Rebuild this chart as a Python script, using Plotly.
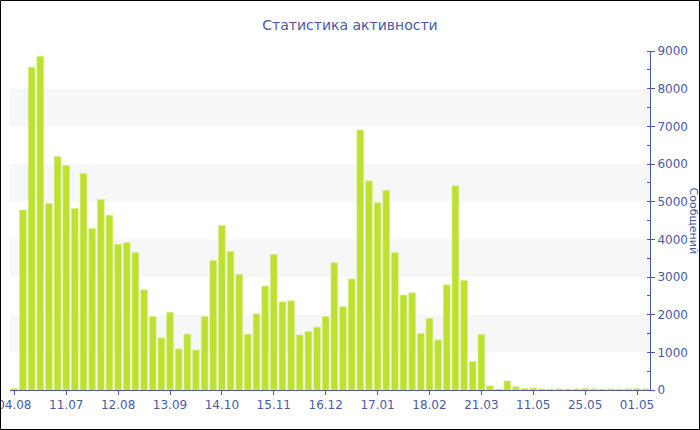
import plotly.graph_objects as go

title_text = "Статистика активности"
y_title = "Сообщений"

# weekly message counts (one bar per period)
values = [
    40, 4780, 8570, 8860, 4950, 6200, 5960, 4820, 5750, 4290,
    5060, 4640, 3870, 3910, 3650, 2660, 1950, 1380, 2060, 1090,
    1480, 1060, 1950, 3440, 4370, 3680, 3070, 1480, 2020, 2760,
    3600, 2340, 2370, 1460, 1550, 1670, 1950, 3380, 2210, 2950,
    6900, 5550, 4970, 5300, 3650, 2520, 2580, 1500, 1900, 1330,
    2790, 5420, 2910, 760, 1475, 110, 25, 240, 85, 40,
    55, 30, 25, 30, 25, 30, 45, 30, 25, 30,
    25, 30, 40, 30,
]
tick_labels = ["04.08", "11.07", "12.08", "13.09", "14.10", "15.11", "16.12",
               "17.01", "18.02", "21.03", "11.05", "25.05", "01.05"]
tick_step = 6
band_edges = [1000, 3000, 5000, 7000]  # gray bands start, each 1000 high

x = list(range(len(values)))
tick_vals = [i * tick_step for i in range(len(tick_labels))]

BLUE = "#4a5b9f"
FONT = "DejaVu Sans, Verdana, sans-serif"

W, H = 700, 430
ml, mr, mt, mb = 10, 50, 51, 40
pw, ph = W - ml - mr, H - mt - mb

fig = go.Figure(go.Bar(
    x=x, y=values,
    marker=dict(color="#bde131", line=dict(color="#d6ee84", width=0.6)),
    hoverinfo="y",
))

shapes = []
for b in band_edges:
    shapes.append(dict(type="rect", xref="paper", yref="y", x0=0, x1=1,
                       y0=b, y1=b + 1000, fillcolor="#f7f7f7",
                       line=dict(width=0), layer="below"))
# outer frame of the picture
shapes.append(dict(type="rect", xref="paper", yref="paper",
                   x0=(0.5 - ml) / pw, x1=(W - 0.5 - ml) / pw,
                   y0=-(mb - 0.5) / ph, y1=(ph + mt - 0.5) / ph,
                   line=dict(color="black", width=1), fillcolor="rgba(0,0,0,0)"))

fig.update_layout(
    width=W, height=H,
    margin=dict(l=ml, r=mr, t=mt, b=mb, autoexpand=False),
    paper_bgcolor="white", plot_bgcolor="white",
    font=dict(family=FONT, color=BLUE, size=12),
    title=dict(text=title_text, x=0.5, xref="container", xanchor="center",
               y=1 - 25 / H, yref="container", yanchor="middle",
               font=dict(family=FONT, size=14, color=BLUE)),
    bargap=0.22,
    showlegend=False,
    shapes=shapes,
    annotations=[dict(text=y_title, xref="paper", yref="paper",
                      x=(693 - ml) / pw, y=0.5, xanchor="center", yanchor="middle",
                      textangle=90, showarrow=False,
                      font=dict(family=FONT, size=11, color=BLUE))],
)
fig.update_xaxes(
    range=[-0.5, len(values) - 0.5],
    tickmode="array", tickvals=tick_vals, ticktext=tick_labels,
    ticks="outside", ticklen=4, tickcolor=BLUE,
    showline=True, linecolor=BLUE, linewidth=1,
    showgrid=False, zeroline=False, automargin=False,
    tickfont=dict(family=FONT, size=12, color=BLUE),
    ticklabeloverflow="allow",
)
fig.update_yaxes(
    side="right", range=[0, 9000], dtick=1000,
    ticks="outside", ticklen=4, tickcolor=BLUE,
    minor=dict(dtick=500, ticks="inside", ticklen=3, tickcolor=BLUE, showgrid=False),
    showline=True, linecolor=BLUE, linewidth=1,
    showgrid=False, zeroline=False, automargin=False,
    tickfont=dict(family=FONT, size=12, color=BLUE),
)

fig.write_html("out.html", config={"displayModeBar": False},
               post_script="document.body.style.margin='0px';")
